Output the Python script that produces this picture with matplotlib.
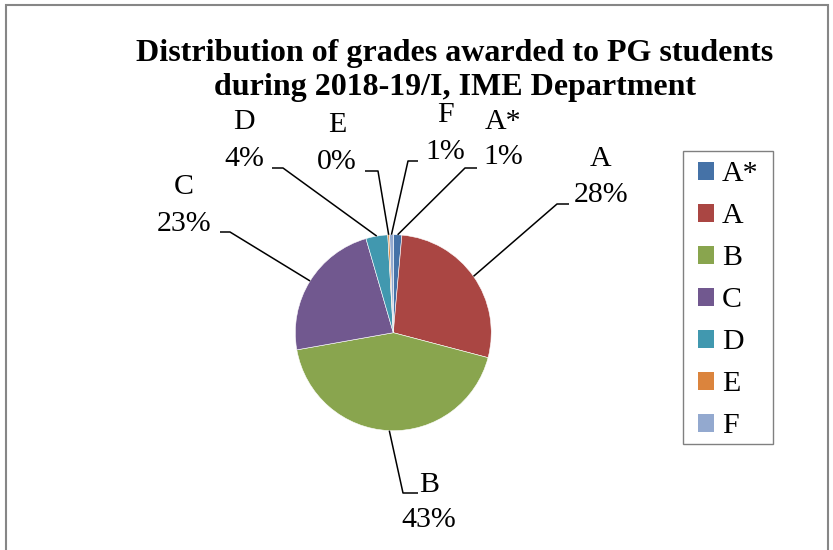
import numpy as np
import matplotlib.pyplot as plt
from matplotlib.patches import Patch, Rectangle

grades = ['A*', 'A', 'B', 'C', 'D', 'E', 'F']
share = [1.4, 27.7, 43.1, 23.3, 3.6, 0.3, 0.6]
colors = ['#4572A7', '#AA4643', '#89A54E', '#71588F', '#4198AF', '#DB843D', '#93A9CF']

# label layout in pixels from top-left: text x, name y, pct y, elbow x, end x, leader y
label_pos = {
    'A*': (503, 122, 157, 465, 477, 168),
    'A':  (601, 159, 195, 557, 569, 204),
    'B':  (429, 485, 520, 403, 418, 493),
    'C':  (184, 187, 224, 230, 220, 232),
    'D':  (244, 122, 159, 283, 272, 168),
    'E':  (337, 125, 162, 378, 365, 171),
    'F':  (445, 115, 152, 408, 418, 161),
}

W, H = 833, 550
plt.rcParams['font.family'] = ['Liberation Serif', 'DejaVu Serif']
fs = 21.5

fig = plt.figure(figsize=(W / 100, H / 100), dpi=100)
ax = fig.add_axes([0, 0, 1, 1])

cx, cy, r = 393.3, H - 332.7, 98
wedges, _ = ax.pie(share, colors=colors, startangle=90, counterclock=False,
                   center=(cx, cy), radius=r,
                   wedgeprops=dict(edgecolor='white', linewidth=0.4))
ax.set_xlim(0, W)
ax.set_ylim(0, H)
ax.set_aspect('equal')
ax.axis('off')

for g, v, w in zip(grades, share, wedges):
    tx, ny, py, ex, endx, ly = label_pos[g]
    mid = np.deg2rad((w.theta1 + w.theta2) / 2)
    ax_, ay_ = cx + r * np.cos(mid), cy + r * np.sin(mid)
    ax.plot([ax_, ex, endx], [ay_, H - ly, H - ly], color='black', lw=1.1,
            solid_capstyle='butt')
    ax.text(tx, H - ny, g, ha='center', va='center', fontsize=fs)
    ax.text(tx, H - py, f'{v:.0f}%', ha='center', va='center', fontsize=fs)

# title
ax.text(455, H - 53, 'Distribution of grades awarded to PG students',
        ha='center', va='center', fontsize=23, fontweight='bold')
ax.text(455, H - 87, 'during 2018-19/I, IME Department',
        ha='center', va='center', fontsize=23, fontweight='bold')

# legend entries, with the box drawn separately
handles = [Patch(facecolor=c, edgecolor='none', label=g) for g, c in zip(grades, colors)]
fig.legend(handles=handles, loc='upper left',
           bbox_to_anchor=(683 / W, 1 - 146.4 / H), borderaxespad=0,
           fontsize=fs, frameon=False,
           handlelength=0.55, handleheight=0.55, handletextpad=0.25,
           labelspacing=0.535, borderpad=0.5)
fig.patches.append(Rectangle((683 / W, 1 - 444.3 / H), 90 / W, 293.6 / H,
                             transform=fig.transFigure, fill=False,
                             edgecolor='#808080', lw=1.0))

# outer chart border
fig.patches.append(Rectangle((6 / W, -0.1), 822 / W, 1.1 - 5 / H,
                             transform=fig.transFigure, fill=False,
                             edgecolor='#868686', lw=1.5))

fig.savefig('out.png', dpi=100)
